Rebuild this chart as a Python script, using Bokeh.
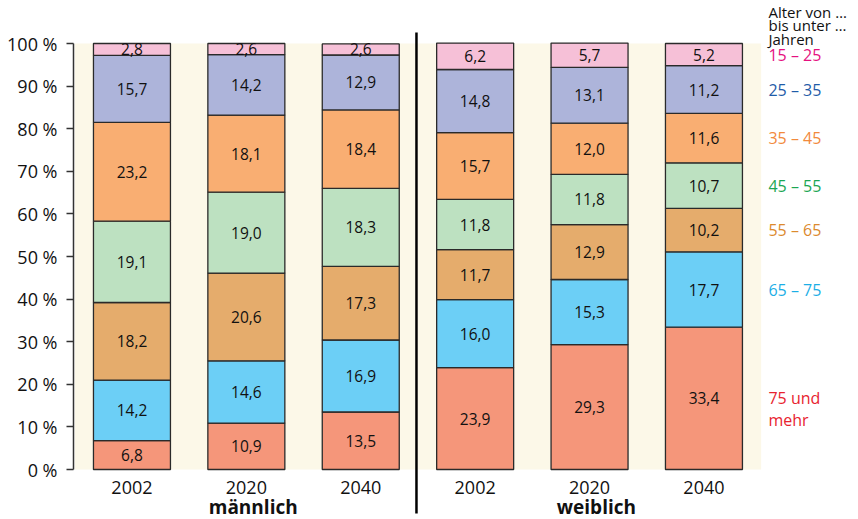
from bokeh.plotting import figure
from bokeh.models import Range1d, FixedTicker
from bokeh.embed import file_html
from bokeh.resources import INLINE
from bokeh.core.properties import value

# ---------------- data ----------------
years = ["2002", "2020", "2040"]
groups = ["männlich", "weiblich"]
# age classes, from bottom of each bar to top
age_classes = ["75 und\nmehr", "65 – 75", "55 – 65", "45 – 55", "35 – 45", "25 – 35", "15 – 25"]
legend_header = ["Alter von …", "bis unter …", "Jahren"]

m2002 = [6.8, 14.2, 18.2, 19.1, 23.2, 15.7, 2.8]
m2020 = [10.9, 14.6, 20.6, 19.0, 18.1, 14.2, 2.6]
m2040 = [13.5, 16.9, 17.3, 18.3, 18.4, 12.9, 2.6]
w2002 = [23.9, 16.0, 11.7, 11.8, 15.7, 14.8, 6.2]
w2020 = [29.3, 15.3, 12.9, 11.8, 12.0, 13.1, 5.7]
w2040 = [33.4, 17.7, 10.2, 10.7, 11.6, 11.2, 5.2]

y_ticks = [0, 10, 20, 30, 40, 50, 60, 70, 80, 90, 100]

# ---------------- style ----------------
FONT = value("Open Sans")
fill_colors = ["#f5967a", "#6ccff6", "#e5ac6c", "#bde1c1", "#f9ae72", "#adb4da", "#f6c0d7"]
legend_colors = ["#e8232f", "#1caee6", "#dc8a2e", "#1ba653", "#f28a3c", "#1f5ca8", "#e5117f"]
BAR_W = 0.673

bars = [m2002, m2020, m2040, w2002, w2020, w2040]

p = figure(width=858, height=519, output_backend="svg", toolbar_location=None,
           x_range=Range1d(-0.511, 6.351), y_range=Range1d(-11.737, 110.094),
           x_axis_type=None, min_border_left=73, min_border_right=0,
           min_border_top=0, min_border_bottom=0)
p.outline_line_color = None
p.grid.visible = False
p.background_fill_color = "white"

# cream background
p.quad(left=[-0.5], right=[5.5], bottom=[0], top=[100],
       fill_color="#fcf8e8", line_color=None)

# stacked bars
xs, bots, tops, cols = [], [], [], []
lx, ly, lt = [], [], []
for i, vals in enumerate(bars):
    cum = 0.0
    for j, v in enumerate(vals):
        xs.append(i)
        bots.append(cum)
        tops.append(cum + v)
        cols.append(fill_colors[j])
        lx.append(i)
        ly.append(cum + v / 2)
        lt.append(f"{v:.1f}".replace(".", ","))
        cum += v

p.vbar(x=xs, width=BAR_W, bottom=bots, top=tops, fill_color=cols,
       line_color="#2a2a2a", line_width=1.3)
p.text(x=lx, y=ly, text=lt, text_font=FONT, text_font_size="15.5px",
       text_color="#111111", text_align="center", text_baseline="middle")

# year labels
yr_x = list(range(len(bars)))
yr_t = years * 2
p.text(x=yr_x, y=[-4.225] * len(yr_x), text=yr_t, text_font=FONT,
       text_font_size="18px", text_color="#111111",
       text_align="center", text_baseline="middle")

# group labels
p.text(x=[1.06, 4.06], y=[-8.75, -8.75], text=groups, text_font=FONT,
       text_font_size="19px", text_font_style="bold", text_color="#111111",
       text_align="center", text_baseline="middle")

# divider
p.segment(x0=[2.487], y0=[102.58], x1=[2.487], y1=[-10.33], line_color="black",
          line_width=2.5)

# legend labels at segment centres of the last bar
cum = 0.0
leg_y = []
for v in w2040:
    leg_y.append(cum + v / 2)
    cum += v
p.text(x=[5.564] * len(age_classes), y=leg_y, text=age_classes, text_font=FONT,
       text_font_size="16px", text_color=legend_colors, text_align="left",
       text_baseline="top", y_offset=-11, text_line_height=1.0)

# legend header
p.text(x=[5.564] * 3, y=[107.51, 104.34, 101.17], text=legend_header, text_font=FONT,
       text_font_size="15px", text_color="#111111", text_align="left",
       text_baseline="middle")

# y axis
ax = p.yaxis[0]
ax.bounds = (0, 100)
ax.ticker = FixedTicker(ticks=y_ticks)
ax.major_label_overrides = {t: f"{t} %" for t in y_ticks}
ax.major_label_text_font = "Open Sans"
ax.major_label_text_font_size = "18px"
ax.major_label_text_color = "#111111"
ax.axis_line_color = "#333333"
ax.axis_line_width = 1.5
ax.major_tick_line_color = "#333333"
ax.major_tick_line_width = 1.5
ax.major_tick_out = 7
ax.major_tick_in = 0
ax.minor_tick_out = 0
ax.minor_tick_in = 0
ax.major_label_standoff = 9

open("out.html", "w").write(file_html(p, INLINE))
